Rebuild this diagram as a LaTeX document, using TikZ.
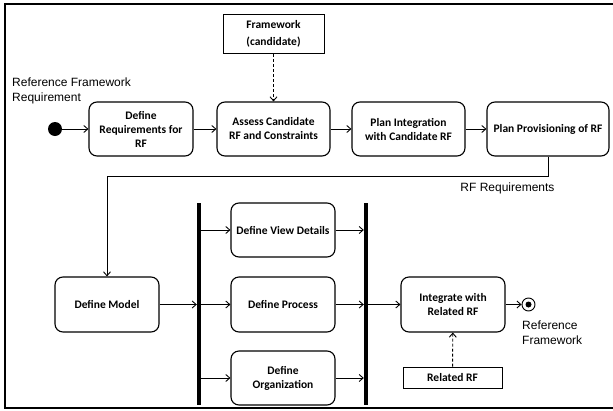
\documentclass[tikz,border=0pt]{standalone}
\usepackage{fontspec}
\setmainfont{Liberation Sans}
\newfontfamily\boxfont{Carlito}
\usetikzlibrary{arrows.meta}

\tikzset{
  act/.style={draw, line width=1.1pt, rounded corners=8pt, align=center,
    font=\boxfont\bfseries\fontsize{11.5}{14}\selectfont, inner sep=1pt},
  obj/.style={draw, line width=0.9pt, align=center,
    font=\boxfont\bfseries\fontsize{11.5}{17}\selectfont, inner sep=1pt},
  bar/.style={fill=black, inner sep=0pt, minimum width=4pt, minimum height=202pt},
  flow/.style={line width=0.9pt, -{Straight Barb[length=4pt,width=7pt,line width=0.9pt]}},
  dep/.style={flow, dashed, dash pattern=on 3pt off 2pt},
  lbl/.style={font=\fontsize{12}{15}\selectfont, inner sep=0pt, align=left}
}

\begin{document}
\begin{tikzpicture}[x=1pt, y=-1pt]
\useasboundingbox (0,0) rectangle (613,410);
% outer frame, open on the right
\draw[line width=2pt] (613,4) -- (5,4) -- (5,408) -- (613,408);

% upper row
\node[obj, minimum width=101pt, minimum height=39pt] (fw) at (273.5,34) {Framework\\(candidate)};
\node[circle, fill=black, inner sep=0pt, minimum size=14pt] (start) at (55,129) {};
\node[act, minimum width=104pt, minimum height=54pt] (req) at (141,129) {Define\\Requirements for\\RF};
\node[act, minimum width=113pt, minimum height=54pt] (assess) at (273.5,129) {Assess Candidate\\RF and Constraints};
\node[act, minimum width=113pt, minimum height=54pt] (plan) at (408.5,129) {Plan Integration\\with Candidate RF};
\node[act, minimum width=122pt, minimum height=54pt] (prov) at (548,129) {Plan Provisioning of RF};

\node[lbl, anchor=north west] (rfr) at (12,77.5) {Reference Framework\\Requirement};
\node[lbl, anchor=center] (rfreq) at (507.5,188) {RF Requirements};

% lower row
\node[act, minimum width=104pt, minimum height=55pt] (model) at (107,304.5) {Define Model};
\node[bar] (fork) at (199,304) {};
\node[act, minimum width=104pt, minimum height=54pt] (view) at (283,230) {Define View Details};
\node[act, minimum width=104pt, minimum height=55pt] (proc) at (283,304.5) {Define Process};
\node[act, minimum width=104pt, minimum height=54pt] (org) at (283,378) {Define\\Organization};
\node[bar] (join) at (366,304) {};
\node[act, minimum width=104pt, minimum height=55pt] (integ) at (453,304.5) {Integrate with\\Related RF};
\node[circle, draw, line width=0.9pt, inner sep=0pt, minimum size=13pt] (done) at (528.5,304.5) {};
\node[circle, fill=black, inner sep=0pt, minimum size=6pt] (doneDot) at (done.center) {};
\node[obj, minimum width=99pt, minimum height=21pt] (rel) at (452.5,377.5) {Related RF};
\node[lbl, anchor=north west] (rfw) at (522,320.5) {Reference\\Framework};

% control flow
\draw[flow] (start) -- (req);
\draw[flow] (req) -- (assess);
\draw[flow] (assess) -- (plan);
\draw[flow] (plan) -- (prov);
\draw[flow] (prov.south) -- ++(0,20) -| (model.north);
\draw[flow] (model) -- (fork.west |- model);
\draw[flow] (fork.east |- view) -- (view.west);
\draw[flow] (fork.east |- proc) -- (proc.west);
\draw[flow] (fork.east |- org) -- (org.west);
\draw[flow] (view.east) -- (join.west |- view);
\draw[flow] (proc.east) -- (join.west |- proc);
\draw[flow] (org.east) -- (join.west |- org);
\draw[flow] (join.east |- integ) -- (integ.west);
\draw[flow] (integ) -- (done);

% object dependencies
\draw[dep] (fw) -- (assess);
\draw[dep] (rel) -- (integ);
\end{tikzpicture}
\end{document}
